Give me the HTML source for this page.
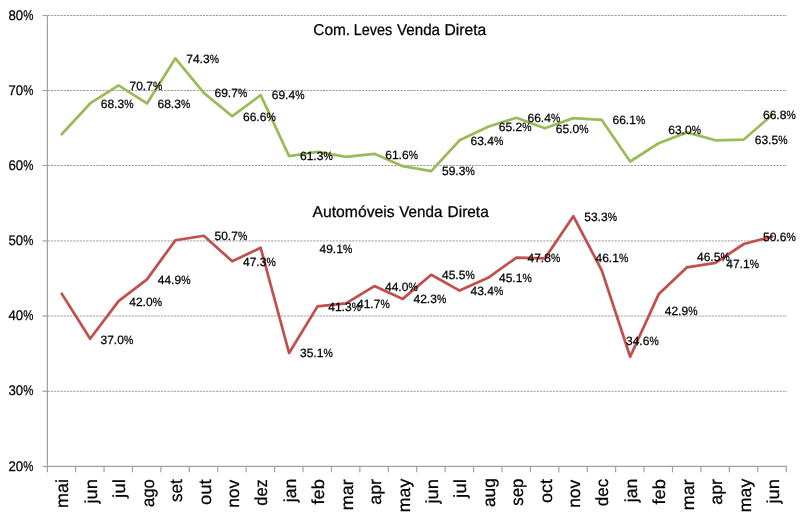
<!DOCTYPE html>
<html lang="pt">
<head>
<meta charset="utf-8">
<title>Venda Direta</title>
<style>
html,body{margin:0;padding:0;background:#fff;}
body{width:800px;height:521px;overflow:hidden;}
svg{display:block;}
text{font-family:"Liberation Sans",Arial,sans-serif;fill:#000;stroke:#000;stroke-width:0.25px;text-rendering:geometricPrecision;}
.dl{font-size:12px;stroke:none;text-rendering:auto;}
.yl{font-size:14px;stroke:none;text-rendering:auto;}
.cl{font-size:17.4px;stroke-width:0.05px;}
.tt{font-size:15.7px;stroke-width:0.12px;}
</style>
</head>
<body>
<svg width="800" height="521" viewBox="0 0 800 521">
<rect x="0" y="0" width="800" height="521" fill="#ffffff"/>
<g stroke="#9e9e9e" stroke-width="1" stroke-dasharray="2.24 1" fill="none">
<line x1="47.5" y1="15.5" x2="787" y2="15.5"/>
<line x1="47.5" y1="90.5" x2="787" y2="90.5"/>
<line x1="47.5" y1="165.5" x2="787" y2="165.5"/>
<line x1="47.5" y1="240.95" x2="787" y2="240.95"/>
<line x1="47.5" y1="316" x2="787" y2="316"/>
<line x1="47.5" y1="391.3" x2="787" y2="391.3"/>
</g>
<g stroke="#a0a0a0" stroke-width="1.2" fill="none">
<line x1="47.4" y1="15.5" x2="47.4" y2="466.5"/>
<line x1="47.5" y1="466.4" x2="787" y2="466.4"/>
<line x1="42.5" y1="15.5" x2="47.5" y2="15.5"/>
<line x1="42.5" y1="90.5" x2="47.5" y2="90.5"/>
<line x1="42.5" y1="165.5" x2="47.5" y2="165.5"/>
<line x1="42.5" y1="240.95" x2="47.5" y2="240.95"/>
<line x1="42.5" y1="316" x2="47.5" y2="316"/>
<line x1="42.5" y1="391.3" x2="47.5" y2="391.3"/>
<line x1="42.5" y1="466.5" x2="47.5" y2="466.5"/>
<line x1="47.4" y1="466.5" x2="47.4" y2="472.3"/>
<line x1="75.62" y1="466.5" x2="75.62" y2="472.3"/>
<line x1="104.05" y1="466.5" x2="104.05" y2="472.3"/>
<line x1="132.47" y1="466.5" x2="132.47" y2="472.3"/>
<line x1="160.89" y1="466.5" x2="160.89" y2="472.3"/>
<line x1="189.32" y1="466.5" x2="189.32" y2="472.3"/>
<line x1="217.74" y1="466.5" x2="217.74" y2="472.3"/>
<line x1="246.16" y1="466.5" x2="246.16" y2="472.3"/>
<line x1="274.58" y1="466.5" x2="274.58" y2="472.3"/>
<line x1="303.01" y1="466.5" x2="303.01" y2="472.3"/>
<line x1="331.43" y1="466.5" x2="331.43" y2="472.3"/>
<line x1="359.85" y1="466.5" x2="359.85" y2="472.3"/>
<line x1="388.28" y1="466.5" x2="388.28" y2="472.3"/>
<line x1="416.7" y1="466.5" x2="416.7" y2="472.3"/>
<line x1="445.12" y1="466.5" x2="445.12" y2="472.3"/>
<line x1="473.55" y1="466.5" x2="473.55" y2="472.3"/>
<line x1="501.97" y1="466.5" x2="501.97" y2="472.3"/>
<line x1="530.39" y1="466.5" x2="530.39" y2="472.3"/>
<line x1="558.82" y1="466.5" x2="558.82" y2="472.3"/>
<line x1="587.24" y1="466.5" x2="587.24" y2="472.3"/>
<line x1="615.66" y1="466.5" x2="615.66" y2="472.3"/>
<line x1="644.08" y1="466.5" x2="644.08" y2="472.3"/>
<line x1="672.51" y1="466.5" x2="672.51" y2="472.3"/>
<line x1="700.93" y1="466.5" x2="700.93" y2="472.3"/>
<line x1="729.35" y1="466.5" x2="729.35" y2="472.3"/>
<line x1="757.78" y1="466.5" x2="757.78" y2="472.3"/>
<line x1="786.2" y1="466.5" x2="786.2" y2="472.3"/>
</g>
<polyline points="61.71,134.26 90.13,103.45 118.56,85.4 146.98,103.45 175.4,58.35 203.83,92.92 232.25,116.22 260.67,95.18 289.1,156.06 317.52,151.93 345.94,156.81 374.37,153.81 402.79,166.21 431.21,171.09 459.63,140.28 488.06,126.75 516.48,117.73 544.9,128.25 573.33,118.1 601.75,119.98 630.17,161.47 658.6,143.28 687.02,132.38 715.44,140.28 743.87,139.53 772.29,114.72" fill="none" stroke="#9BBB59" stroke-width="2.75" stroke-linejoin="round" stroke-linecap="round"/>
<polyline points="61.71,293.62 90.13,338.72 118.56,301.13 146.98,279.33 175.4,240.25 203.83,235.74 232.25,261.3 260.67,247.76 289.1,353 317.52,306.4 345.94,303.39 374.37,286.1 402.79,298.88 431.21,274.82 459.63,290.61 488.06,277.83 516.48,257.54 544.9,258.29 573.33,216.2 601.75,270.31 630.17,356.76 658.6,294.37 687.02,267.31 715.44,262.8 743.87,244.01 772.29,236.49" fill="none" stroke="#C0504D" stroke-width="2.75" stroke-linejoin="round" stroke-linecap="round"/>
<g class="yl">
<text x="8.5" y="20"><tspan textLength="14.7" lengthAdjust="spacingAndGlyphs">80</tspan><tspan textLength="10.2" lengthAdjust="spacingAndGlyphs">%</tspan></text>
<text x="8.5" y="95"><tspan textLength="14.7" lengthAdjust="spacingAndGlyphs">70</tspan><tspan textLength="10.2" lengthAdjust="spacingAndGlyphs">%</tspan></text>
<text x="8.5" y="170"><tspan textLength="14.7" lengthAdjust="spacingAndGlyphs">60</tspan><tspan textLength="10.2" lengthAdjust="spacingAndGlyphs">%</tspan></text>
<text x="8.5" y="245"><tspan textLength="14.7" lengthAdjust="spacingAndGlyphs">50</tspan><tspan textLength="10.2" lengthAdjust="spacingAndGlyphs">%</tspan></text>
<text x="8.5" y="320"><tspan textLength="14.7" lengthAdjust="spacingAndGlyphs">40</tspan><tspan textLength="10.2" lengthAdjust="spacingAndGlyphs">%</tspan></text>
<text x="8.5" y="395"><tspan textLength="14.7" lengthAdjust="spacingAndGlyphs">30</tspan><tspan textLength="10.2" lengthAdjust="spacingAndGlyphs">%</tspan></text>
<text x="8.5" y="471"><tspan textLength="14.7" lengthAdjust="spacingAndGlyphs">20</tspan><tspan textLength="10.2" lengthAdjust="spacingAndGlyphs">%</tspan></text>
</g>
<g class="cl">
<text transform="translate(68.41 507.89) rotate(-90)" textLength="29" lengthAdjust="spacingAndGlyphs">mai</text>
<text transform="translate(96.83 503.56) rotate(-90)" textLength="24.52" lengthAdjust="spacingAndGlyphs">jun</text>
<text transform="translate(125.26 497.93) rotate(-90)" textLength="19.03" lengthAdjust="spacingAndGlyphs">jul</text>
<text transform="translate(153.68 506.99) rotate(-90)" textLength="27.86" lengthAdjust="spacingAndGlyphs">ago</text>
<text transform="translate(182.1 502.1) rotate(-90)" textLength="22.9" lengthAdjust="spacingAndGlyphs">set</text>
<text transform="translate(210.53 505.08) rotate(-90)" textLength="25.84" lengthAdjust="spacingAndGlyphs">out</text>
<text transform="translate(238.95 507.86) rotate(-90)" textLength="28.19" lengthAdjust="spacingAndGlyphs">nov</text>
<text transform="translate(267.37 505.67) rotate(-90)" textLength="26.49" lengthAdjust="spacingAndGlyphs">dez</text>
<text transform="translate(295.8 502.14) rotate(-90)" textLength="23.46" lengthAdjust="spacingAndGlyphs">jan</text>
<text transform="translate(324.22 504.51) rotate(-90)" textLength="25.4" lengthAdjust="spacingAndGlyphs">feb</text>
<text transform="translate(352.64 510.18) rotate(-90)" textLength="31.04" lengthAdjust="spacingAndGlyphs">mar</text>
<text transform="translate(381.07 504.74) rotate(-90)" textLength="25.77" lengthAdjust="spacingAndGlyphs">apr</text>
<text transform="translate(409.99 512.15) rotate(-90)" textLength="33.37" lengthAdjust="spacingAndGlyphs">may</text>
<text transform="translate(437.91 503.56) rotate(-90)" textLength="24.52" lengthAdjust="spacingAndGlyphs">jun</text>
<text transform="translate(466.33 497.93) rotate(-90)" textLength="19.03" lengthAdjust="spacingAndGlyphs">jul</text>
<text transform="translate(494.76 507.02) rotate(-90)" textLength="28.78" lengthAdjust="spacingAndGlyphs">aug</text>
<text transform="translate(523.18 505.71) rotate(-90)" textLength="27.16" lengthAdjust="spacingAndGlyphs">sep</text>
<text transform="translate(551.6 503.1) rotate(-90)" textLength="24" lengthAdjust="spacingAndGlyphs">oct</text>
<text transform="translate(580.03 507.86) rotate(-90)" textLength="28.19" lengthAdjust="spacingAndGlyphs">nov</text>
<text transform="translate(608.45 506.18) rotate(-90)" textLength="27.43" lengthAdjust="spacingAndGlyphs">dec</text>
<text transform="translate(636.87 502.14) rotate(-90)" textLength="23.46" lengthAdjust="spacingAndGlyphs">jan</text>
<text transform="translate(665.3 504.51) rotate(-90)" textLength="25.4" lengthAdjust="spacingAndGlyphs">feb</text>
<text transform="translate(693.72 510.18) rotate(-90)" textLength="31.04" lengthAdjust="spacingAndGlyphs">mar</text>
<text transform="translate(722.14 504.74) rotate(-90)" textLength="25.77" lengthAdjust="spacingAndGlyphs">apr</text>
<text transform="translate(750.57 512.15) rotate(-90)" textLength="33.37" lengthAdjust="spacingAndGlyphs">may</text>
<text transform="translate(778.99 503.56) rotate(-90)" textLength="24.52" lengthAdjust="spacingAndGlyphs">jun</text>
</g>
<g class="tt">
<text transform="matrix(1 0.0005 0 1 314 34.9)"><tspan x="-0.77" textLength="36.93" lengthAdjust="spacingAndGlyphs">Com.</tspan> <tspan x="39.75" textLength="38.38" lengthAdjust="spacingAndGlyphs">Leves</tspan> <tspan x="83" textLength="43.04" lengthAdjust="spacingAndGlyphs">Venda</tspan> <tspan x="130.55" textLength="41.79" lengthAdjust="spacingAndGlyphs">Direta</tspan></text>
<text transform="matrix(1 0.0005 0 1 312.5 216.9)"><tspan x="0" textLength="82.17" lengthAdjust="spacingAndGlyphs">Automóveis</tspan> <tspan x="86.8" textLength="43.24" lengthAdjust="spacingAndGlyphs">Venda</tspan> <tspan x="135.07" textLength="41.18" lengthAdjust="spacingAndGlyphs">Direta</tspan></text>
</g>
<g class="dl">
<text x="100.75" y="108"><tspan textLength="23.4" lengthAdjust="spacingAndGlyphs">68.3</tspan><tspan textLength="9.3" lengthAdjust="spacingAndGlyphs">%</tspan></text>
<text x="129.5" y="90"><tspan textLength="23.4" lengthAdjust="spacingAndGlyphs">70.7</tspan><tspan textLength="9.3" lengthAdjust="spacingAndGlyphs">%</tspan></text>
<text x="157.5" y="108"><tspan textLength="23.4" lengthAdjust="spacingAndGlyphs">68.3</tspan><tspan textLength="9.3" lengthAdjust="spacingAndGlyphs">%</tspan></text>
<text x="186.25" y="63"><tspan textLength="23.4" lengthAdjust="spacingAndGlyphs">74.3</tspan><tspan textLength="9.3" lengthAdjust="spacingAndGlyphs">%</tspan></text>
<text x="214.5" y="97"><tspan textLength="23.4" lengthAdjust="spacingAndGlyphs">69.7</tspan><tspan textLength="9.3" lengthAdjust="spacingAndGlyphs">%</tspan></text>
<text x="243" y="121"><tspan textLength="23.4" lengthAdjust="spacingAndGlyphs">66.6</tspan><tspan textLength="9.3" lengthAdjust="spacingAndGlyphs">%</tspan></text>
<text x="271.75" y="99"><tspan textLength="23.4" lengthAdjust="spacingAndGlyphs">69.4</tspan><tspan textLength="9.3" lengthAdjust="spacingAndGlyphs">%</tspan></text>
<text x="300" y="160"><tspan textLength="23.4" lengthAdjust="spacingAndGlyphs">61.3</tspan><tspan textLength="9.3" lengthAdjust="spacingAndGlyphs">%</tspan></text>
<text x="385.25" y="159"><tspan textLength="23.4" lengthAdjust="spacingAndGlyphs">61.6</tspan><tspan textLength="9.3" lengthAdjust="spacingAndGlyphs">%</tspan></text>
<text x="442" y="175"><tspan textLength="23.4" lengthAdjust="spacingAndGlyphs">59.3</tspan><tspan textLength="9.3" lengthAdjust="spacingAndGlyphs">%</tspan></text>
<text x="470.5" y="145"><tspan textLength="23.4" lengthAdjust="spacingAndGlyphs">63.4</tspan><tspan textLength="9.3" lengthAdjust="spacingAndGlyphs">%</tspan></text>
<text x="498.75" y="131"><tspan textLength="23.4" lengthAdjust="spacingAndGlyphs">65.2</tspan><tspan textLength="9.3" lengthAdjust="spacingAndGlyphs">%</tspan></text>
<text x="527.5" y="122"><tspan textLength="23.4" lengthAdjust="spacingAndGlyphs">66.4</tspan><tspan textLength="9.3" lengthAdjust="spacingAndGlyphs">%</tspan></text>
<text x="555.75" y="133"><tspan textLength="23.4" lengthAdjust="spacingAndGlyphs">65.0</tspan><tspan textLength="9.3" lengthAdjust="spacingAndGlyphs">%</tspan></text>
<text x="612.5" y="124"><tspan textLength="23.4" lengthAdjust="spacingAndGlyphs">66.1</tspan><tspan textLength="9.3" lengthAdjust="spacingAndGlyphs">%</tspan></text>
<text x="668.25" y="134"><tspan textLength="23.4" lengthAdjust="spacingAndGlyphs">63.0</tspan><tspan textLength="9.3" lengthAdjust="spacingAndGlyphs">%</tspan></text>
<text x="763" y="119"><tspan textLength="23.4" lengthAdjust="spacingAndGlyphs">66.8</tspan><tspan textLength="9.3" lengthAdjust="spacingAndGlyphs">%</tspan></text>
<text x="754.75" y="144"><tspan textLength="23.4" lengthAdjust="spacingAndGlyphs">63.5</tspan><tspan textLength="9.3" lengthAdjust="spacingAndGlyphs">%</tspan></text>
<text x="100.5" y="344"><tspan textLength="23.4" lengthAdjust="spacingAndGlyphs">37.0</tspan><tspan textLength="9.3" lengthAdjust="spacingAndGlyphs">%</tspan></text>
<text x="129.25" y="306"><tspan textLength="23.4" lengthAdjust="spacingAndGlyphs">42.0</tspan><tspan textLength="9.3" lengthAdjust="spacingAndGlyphs">%</tspan></text>
<text x="157.75" y="284"><tspan textLength="23.4" lengthAdjust="spacingAndGlyphs">44.9</tspan><tspan textLength="9.3" lengthAdjust="spacingAndGlyphs">%</tspan></text>
<text x="214.5" y="240"><tspan textLength="23.4" lengthAdjust="spacingAndGlyphs">50.7</tspan><tspan textLength="9.3" lengthAdjust="spacingAndGlyphs">%</tspan></text>
<text x="243" y="266"><tspan textLength="23.4" lengthAdjust="spacingAndGlyphs">47.3</tspan><tspan textLength="9.3" lengthAdjust="spacingAndGlyphs">%</tspan></text>
<text x="319.5" y="253"><tspan textLength="23.4" lengthAdjust="spacingAndGlyphs">49.1</tspan><tspan textLength="9.3" lengthAdjust="spacingAndGlyphs">%</tspan></text>
<text x="328.25" y="311"><tspan textLength="23.4" lengthAdjust="spacingAndGlyphs">41.3</tspan><tspan textLength="9.3" lengthAdjust="spacingAndGlyphs">%</tspan></text>
<text x="357" y="308"><tspan textLength="23.4" lengthAdjust="spacingAndGlyphs">41.7</tspan><tspan textLength="9.3" lengthAdjust="spacingAndGlyphs">%</tspan></text>
<text x="385" y="291"><tspan textLength="23.4" lengthAdjust="spacingAndGlyphs">44.0</tspan><tspan textLength="9.3" lengthAdjust="spacingAndGlyphs">%</tspan></text>
<text x="413.5" y="303"><tspan textLength="23.4" lengthAdjust="spacingAndGlyphs">42.3</tspan><tspan textLength="9.3" lengthAdjust="spacingAndGlyphs">%</tspan></text>
<text x="300" y="357"><tspan textLength="23.4" lengthAdjust="spacingAndGlyphs">35.1</tspan><tspan textLength="9.3" lengthAdjust="spacingAndGlyphs">%</tspan></text>
<text x="442" y="279"><tspan textLength="23.4" lengthAdjust="spacingAndGlyphs">45.5</tspan><tspan textLength="9.3" lengthAdjust="spacingAndGlyphs">%</tspan></text>
<text x="470.5" y="295"><tspan textLength="23.4" lengthAdjust="spacingAndGlyphs">43.4</tspan><tspan textLength="9.3" lengthAdjust="spacingAndGlyphs">%</tspan></text>
<text x="499" y="282"><tspan textLength="23.4" lengthAdjust="spacingAndGlyphs">45.1</tspan><tspan textLength="9.3" lengthAdjust="spacingAndGlyphs">%</tspan></text>
<text x="527.5" y="262"><tspan textLength="23.4" lengthAdjust="spacingAndGlyphs">47.8</tspan><tspan textLength="9.3" lengthAdjust="spacingAndGlyphs">%</tspan></text>
<text x="584.25" y="221"><tspan textLength="23.4" lengthAdjust="spacingAndGlyphs">53.3</tspan><tspan textLength="9.3" lengthAdjust="spacingAndGlyphs">%</tspan></text>
<text x="595.5" y="262"><tspan textLength="23.4" lengthAdjust="spacingAndGlyphs">46.1</tspan><tspan textLength="9.3" lengthAdjust="spacingAndGlyphs">%</tspan></text>
<text x="664.75" y="315"><tspan textLength="23.4" lengthAdjust="spacingAndGlyphs">42.9</tspan><tspan textLength="9.3" lengthAdjust="spacingAndGlyphs">%</tspan></text>
<text x="697" y="261"><tspan textLength="23.4" lengthAdjust="spacingAndGlyphs">46.5</tspan><tspan textLength="9.3" lengthAdjust="spacingAndGlyphs">%</tspan></text>
<text x="726.25" y="268"><tspan textLength="23.4" lengthAdjust="spacingAndGlyphs">47.1</tspan><tspan textLength="9.3" lengthAdjust="spacingAndGlyphs">%</tspan></text>
<text x="763" y="241"><tspan textLength="23.4" lengthAdjust="spacingAndGlyphs">50.6</tspan><tspan textLength="9.3" lengthAdjust="spacingAndGlyphs">%</tspan></text>
<text x="626" y="345"><tspan textLength="23.4" lengthAdjust="spacingAndGlyphs">34.6</tspan><tspan textLength="9.3" lengthAdjust="spacingAndGlyphs">%</tspan></text>
</g>
</svg>
</body>
</html>
